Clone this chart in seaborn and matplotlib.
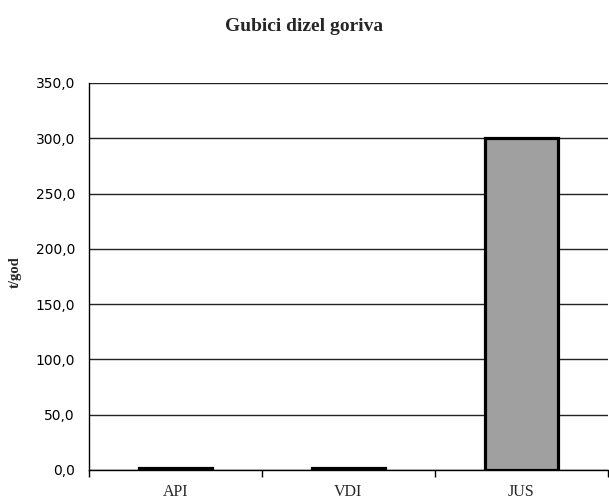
import matplotlib
matplotlib.use("Agg")
import matplotlib.pyplot as plt
import matplotlib.ticker as mticker
import seaborn as sns
import pandas as pd

# data
methods = ["API", "VDI", "JUS"]
losses = [1.5, 1.5, 300.0]
y_ticks = [0, 50, 100, 150, 200, 250, 300, 350]

df = pd.DataFrame({"metoda": methods, "gubici": losses})

sns.set_style("white")
plt.rcParams["font.family"] = ["Liberation Serif", "DejaVu Serif"]

fig = plt.figure(figsize=(6.09, 5.03), dpi=100)
ax = fig.add_axes([0.146, 0.066, 0.852, 0.769])

sns.barplot(data=df, x="metoda", y="gubici", color="#a0a0a0",
            edgecolor="black", linewidth=2.3, width=0.42, saturation=1,
            ax=ax)

ax.set_ylim(0, 350)
ax.set_xlim(-0.5, len(methods) - 0.5)
ax.set_yticks(y_ticks)
ax.yaxis.set_major_formatter(mticker.FuncFormatter(lambda v, p: f"{v:.1f}".replace(".", ",")))
for lab in ax.get_yticklabels():
    lab.set_fontfamily("DejaVu Sans")
    lab.set_fontsize(10)
ax.tick_params(axis="y", direction="inout", length=6, width=1, colors="black", pad=7)

# category separators as ticks on x axis
ax.xaxis.set_minor_locator(mticker.FixedLocator([i + 0.5 for i in range(-1, len(methods))]))
ax.tick_params(axis="x", which="minor", bottom=True, direction="out", length=5, width=1, colors="black")
ax.tick_params(axis="x", which="major", length=0, pad=10, labelsize=11.5)

ax.yaxis.grid(True, color="#222222", linewidth=1)
ax.set_axisbelow(True)
for s in ["top", "right"]:
    ax.spines[s].set_visible(False)
for s in ["left", "bottom"]:
    ax.spines[s].set_color("black")
    ax.spines[s].set_linewidth(1)

ax.set_xlabel("")
ax.set_ylabel("t/god", fontsize=10.5, fontweight="bold")
ax.yaxis.set_label_coords(-0.13, 0.51)
fig.text(0.5, 0.948, "Gubici dizel goriva", ha="center", va="center",
         fontsize=14, fontweight="bold")

fig.savefig("out.png", dpi=100)
